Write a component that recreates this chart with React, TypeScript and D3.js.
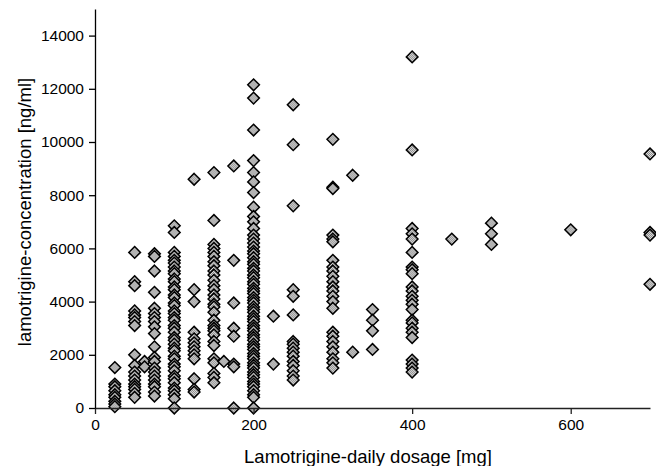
import React, { useEffect, useRef } from "react";
import * as d3 from "d3";

// lamotrigine daily dose [mg] -> measured concentrations [ng/ml]
const dose25 = [1520, 900, 800, 650, 500, 400, 250, 150, 50];
const dose50 = [5850, 4750, 4600, 3650, 3500, 3400, 3250, 3100, 2000, 1600, 1350, 1200, 1050, 900, 800, 700, 550, 400];
const dose62 = [1750, 1550];
const dose75 = [5800, 5700, 5150, 4350, 3750, 3550, 3400, 3250, 3050, 2800, 2300, 1900, 1750, 1500, 1350, 1200, 1050, 900, 800, 600, 450];
const dose100 = [6850, 6600, 5850, 5700, 5550, 5450, 5300, 5150, 5050, 4850, 4750, 4550, 4450, 4250, 4150, 3950, 3850, 3650, 3550, 3400, 3300, 3100, 3000, 2850, 2650, 2550, 2400, 2250, 2150, 1950, 1850, 1650, 1550, 1400, 1200, 1100, 950, 750, 650, 500, 350, 0];
const dose125 = [8600, 4450, 4000, 2850, 2600, 2450, 2300, 2150, 2000, 1850, 1100, 700, 600];
const dose150 = [8850, 7050, 6150, 6000, 5850, 5700, 5500, 5350, 5150, 5000, 4800, 4600, 4450, 4250, 4100, 3900, 3800, 3600, 3300, 3100, 3000, 2900, 2750, 2500, 2350, 1850, 1700, 1300, 1150, 950];
const dose162 = [1750];
const dose175 = [9100, 5550, 3950, 3000, 2700, 1650, 1550, 0];
const dose200 = [12150, 11650, 10450, 9300, 8850, 8500, 8100, 7550, 7200, 7000, 6750, 6500, 6350, 6200, 6050, 5900, 5800, 5650, 5500, 5400, 5250, 5150, 5000, 4900, 4750, 4650, 4500, 4400, 4300, 4150, 4050, 3950, 3800, 3700, 3600, 3450, 3350, 3250, 3100, 3000, 2900, 2750, 2650, 2550, 2400, 2300, 2200, 2050, 1950, 1850, 1700, 1600, 1500, 1350, 1250, 1150, 1000, 900, 800, 650, 500, 400, 0];
const dose225 = [3450, 1650];
const dose250 = [11400, 9900, 7600, 4450, 4200, 3500, 2500, 2400, 2250, 2100, 1950, 1750, 1600, 1400, 1200, 1050];
const dose300 = [10100, 8300, 8250, 6500, 6350, 6250, 5550, 5300, 5150, 4950, 4750, 4550, 4400, 4200, 4000, 3750, 2850, 2700, 2500, 2300, 2100, 1850, 1700, 1500];
const dose325 = [8750, 2100];
const dose350 = [3700, 3300, 2900, 2200];
const dose400 = [13200, 9700, 6750, 6550, 6350, 5850, 5300, 5200, 5050, 4550, 4400, 4200, 4050, 3900, 3700, 3300, 3200, 3000, 2850, 2650, 1800, 1650, 1500, 1350];
const dose450 = [6350];
const dose500 = [6950, 6550, 6150];
const dose600 = [6700];
const dose700 = [9550, 6600, 6500, 4650];

const groups = [
    [25, dose25], [50, dose50], [62.5, dose62], [75, dose75], [100, dose100],
    [125, dose125], [150, dose150], [162.5, dose162], [175, dose175], [200, dose200],
    [225, dose225], [250, dose250], [300, dose300], [325, dose325], [350, dose350],
    [400, dose400], [450, dose450], [500, dose500], [600, dose600], [700, dose700],
];

const xTicks = [0, 200, 400, 600];
const yTicks = [0, 2000, 4000, 6000, 8000, 10000, 12000, 14000];

const width = 656;
const height = 466;
const font = "Liberation Sans, Arial, sans-serif";

const squareDiamond = {
    draw(ctx, size) {
        const r = Math.sqrt(size / 2);
        ctx.moveTo(0, -r);
        ctx.lineTo(r, 0);
        ctx.lineTo(0, r);
        ctx.lineTo(-r, 0);
        ctx.closePath();
    },
};

const App = () => {
    const ref = useRef(null);

    useEffect(() => {
        const root = d3.select(ref.current);
        root.selectAll("*").remove();

        const svg = root
            .append("svg")
            .attr("width", width)
            .attr("height", height)
            .style("display", "block");

        const pattern = svg
            .append("defs")
            .append("pattern")
            .attr("id", "dither")
            .attr("width", 2)
            .attr("height", 2)
            .attr("patternUnits", "userSpaceOnUse");
        pattern.append("rect").attr("width", 2).attr("height", 2).attr("fill", "#e0e0e0");
        pattern.append("rect").attr("width", 1).attr("height", 1).attr("fill", "#858585");
        pattern.append("rect").attr("x", 1).attr("y", 1).attr("width", 1).attr("height", 1).attr("fill", "#858585");

        const x = d3.scaleLinear().domain([0, 700]).range([95, 650]);
        const y = d3.scaleLinear().domain([0, 15000]).range([408, 9]);

        const points = groups.flatMap(([dose, values]) => values.map((v) => ({ dose, v })));

        const symbol = d3.symbol().type(squareDiamond).size(68);
        svg.append("g")
            .selectAll("path")
            .data(points)
            .join("path")
            .attr("transform", (d) => `translate(${x(d.dose)},${y(d.v)})`)
            .attr("d", symbol)
            .attr("fill", "url(#dither)")
            .attr("stroke", "#000")
            .attr("stroke-width", 1.5);

        // x axis
        const xAxis = svg
            .append("g")
            .attr("transform", `translate(0,${y(0)})`)
            .call(d3.axisBottom(x).tickValues(xTicks).tickSize(6).tickPadding(5).tickSizeOuter(0));
        xAxis.select(".domain").attr("stroke", "#222").attr("stroke-width", 1.3);
        xAxis.selectAll(".tick line").attr("stroke", "#222").attr("stroke-width", 1.3);
        xAxis.selectAll("text").attr("font-family", font).attr("font-size", 15.5).attr("fill", "#000");

        // y axis
        const yAxis = svg
            .append("g")
            .attr("transform", `translate(${x(0)},0)`)
            .call(d3.axisLeft(y).tickValues(yTicks).tickFormat(d3.format("d")).tickSize(6).tickPadding(5).tickSizeOuter(0));
        yAxis.select(".domain").attr("stroke", "#000").attr("stroke-width", 1.3);
        yAxis.selectAll(".tick line").attr("stroke", "#000").attr("stroke-width", 1.3);
        yAxis.selectAll("text").attr("font-family", font).attr("font-size", 15.5).attr("fill", "#000");

        svg.append("text")
            .attr("x", 368)
            .attr("y", 463)
            .attr("text-anchor", "middle")
            .attr("font-family", font)
            .attr("font-size", 18.5)
            .attr("fill", "#000")
            .text("Lamotrigine-daily dosage [mg]");

        svg.append("text")
            .attr("transform", `translate(31,${212}) rotate(-90)`)
            .attr("text-anchor", "middle")
            .attr("font-family", font)
            .attr("font-size", 18.5)
            .attr("fill", "#000")
            .text("lamotrigine-concentration [ng/ml]");
    });

    return (
        <div
            ref={ref}
            style={{ position: "absolute", left: 0, top: 0, width, height, background: "#fff" }}
        ></div>
    );
};

export default App;
